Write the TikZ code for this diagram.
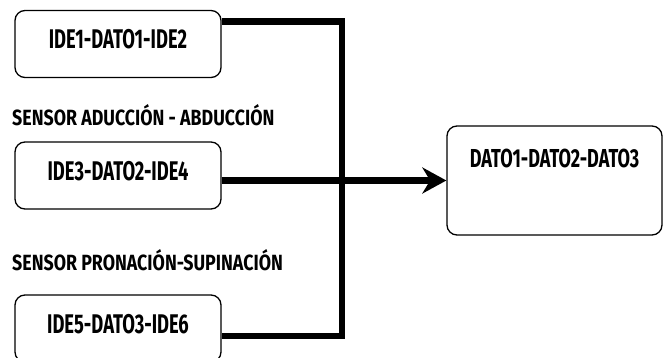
\documentclass[tikz,border=0pt]{standalone}
\usepackage{fontspec}
\newfontfamily\cajafont{Fira Sans}[FakeStretch=0.68]
\newfontfamily\datofont{Fira Sans}[FakeStretch=0.695]
\newfontfamily\sensorfont{Fira Sans}[FakeStretch=0.81]
\usetikzlibrary{arrows.meta,positioning}

\tikzset{
	caja/.style = {draw, rounded corners=10pt, line width=1.3pt,
		minimum width=206pt, minimum height=67pt, text depth=10pt,
		font=\cajafont\bfseries\fontsize{27}{29}\selectfont},
	destino/.style = {caja, minimum width=215pt, minimum height=109pt,
		text depth=44pt, font=\datofont\bfseries\fontsize{26}{28}\selectfont},
	sensor/.style = {anchor=west, inner sep=0pt,
		font=\sensorfont\bfseries\fontsize{22}{24}\selectfont},
	bus/.style = {line width=6.5pt}
}

\begin{document}
\begin{tikzpicture} [x=1pt, y=-1pt]
\useasboundingbox (0,0) rectangle (664,358);

% boxes of the sensors:
\node [caja] (ide1) at (118,44) {IDE1-DATO1-IDE2};
\node [caja] (ide2) at (118,175.5) {IDE3-DATO2-IDE4};
\node [caja] (ide3) at (118,328.5) {IDE5-DATO3-IDE6};

% sensor names:
\node [sensor] (aduccion) at (12,115) {SENSOR ADUCCIÓN - ABDUCCIÓN};
\node [sensor] (pronacion) at (12,260) {SENSOR PRONACIÓN-SUPINACIÓN};

% box of the data:
\node [destino] (datos) at (554.5,180.5) {DATO1-DATO2-DATO3};

% bus:
\coordinate (codo) at (342,180);
\draw [bus] ([yshift=22.5pt]ide1.east) -| (codo)
	|- ([yshift=-7.5pt]ide3.east);
\draw [bus, -{Stealth[length=24pt, width=26pt]}]
	(ide2.east |- datos.west) -- (datos.west);
\end{tikzpicture}
\end{document}
